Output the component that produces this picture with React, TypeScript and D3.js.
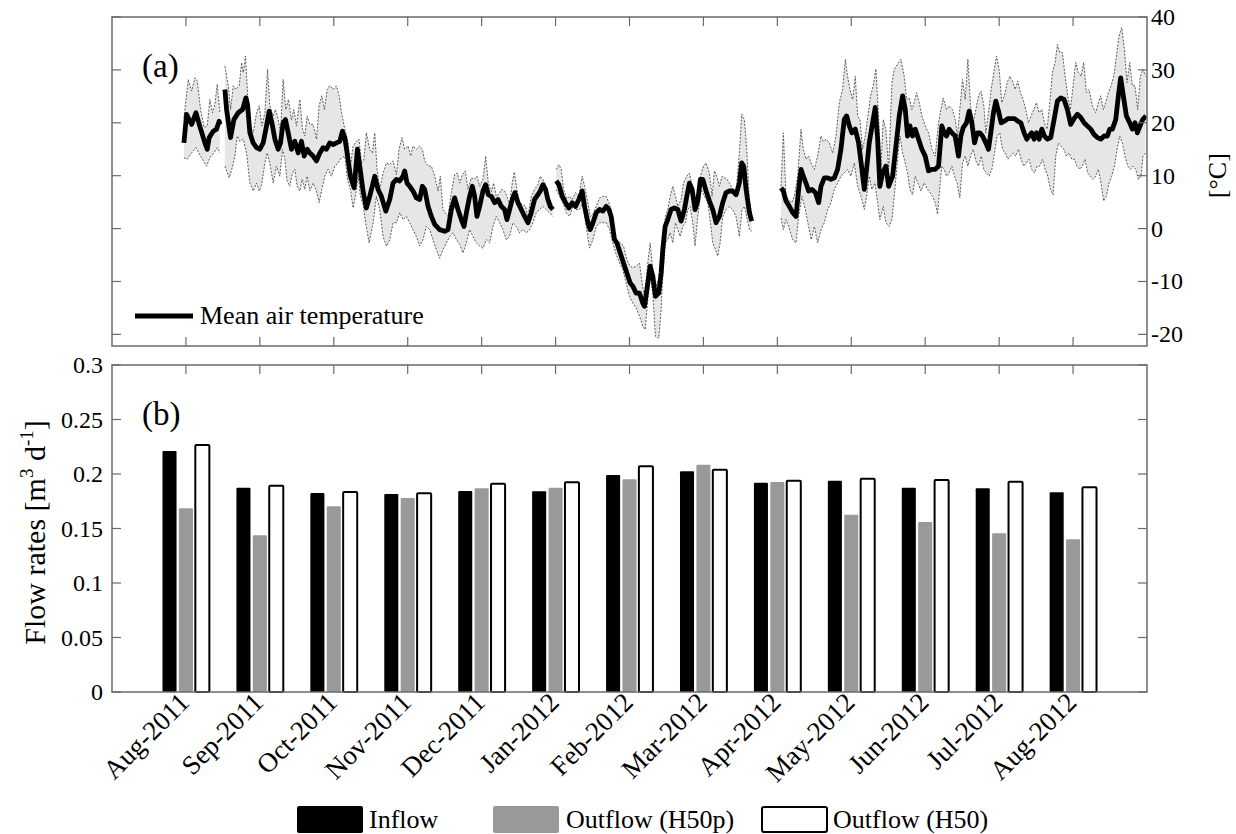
import React from 'react';
import * as d3 from 'd3';

type P = [number, number];

const months = ['Aug-2011', 'Sep-2011', 'Oct-2011', 'Nov-2011', 'Dec-2011', 'Jan-2012', 'Feb-2012', 'Mar-2012', 'Apr-2012', 'May-2012', 'Jun-2012', 'Jul-2012', 'Aug-2012'];
const inflow = [0.221, 0.1875, 0.1826, 0.1817, 0.1844, 0.1841, 0.1991, 0.2025, 0.192, 0.1939, 0.1875, 0.1869, 0.1832];
const outflowH50p = [0.1685, 0.1437, 0.1703, 0.178, 0.1869, 0.1875, 0.1951, 0.2086, 0.1927, 0.1627, 0.156, 0.1456, 0.1401];
const outflowH50 = [0.2266, 0.1893, 0.1835, 0.1823, 0.1911, 0.1924, 0.207, 0.204, 0.1939, 0.1957, 0.1945, 0.193, 0.1878];
const flowTicks = [0, 0.05, 0.1, 0.15, 0.2, 0.25, 0.3];
const flowTickLabels = ['0', '0.05', '0.1', '0.15', '0.2', '0.25', '0.3'];
const tempTicks = [-20, -10, 0, 10, 20, 30, 40];

// Daily air temperature, x in month-position units (1 = Aug-2011), value in °C
const meanA: P[] = [[0.973,16.2],[1.009,21.6],[1.036,20.8],[1.077,19.7],[1.135,21.9],[1.180,19.7],[1.257,16.2],[1.288,15.0],[1.315,17.2],[1.369,18.4],[1.414,18.8],[1.450,20.3],[1.459,19.7]];
const hiA: P[] = [[0.973,21.0],[1.032,28.2],[1.077,26.0],[1.122,28.5],[1.153,27.9],[1.198,22.5],[1.248,19.1],[1.288,19.4],[1.324,24.4],[1.360,21.9],[1.392,23.5],[1.423,27.3],[1.459,21.9]];
const loA: P[] = [[0.973,13.4],[1.018,13.1],[1.077,14.3],[1.135,15.3],[1.198,13.7],[1.279,11.8],[1.324,13.4],[1.378,14.3],[1.423,15.3],[1.459,14.3]];

const meanB: P[] = [[1.527,26.3],[1.550,22.5],[1.604,17.2],[1.649,20.6],[1.707,21.9],[1.766,22.5],[1.811,24.7],[1.833,23.5],[1.865,18.1],[1.910,16.2],[1.955,15.3],[2.000,15.0],[2.045,16.2],[2.090,19.4],[2.126,22.2],[2.167,19.7],[2.203,16.9],[2.248,15.0],[2.279,16.2],[2.315,20.0],[2.347,20.6],[2.383,18.1],[2.428,15.0],[2.473,16.5],[2.518,14.3],[2.563,16.5],[2.599,13.7],[2.640,15.0],[2.676,14.3],[2.721,13.7],[2.766,12.8],[2.811,14.3],[2.856,15.3],[2.901,15.0],[2.946,16.2],[2.991,15.9],[3.036,16.2],[3.081,16.5],[3.117,18.4],[3.149,17.2],[3.180,14.3],[3.225,9.9],[3.275,7.7],[3.320,15.0],[3.351,11.8],[3.396,7.1],[3.441,3.9],[3.486,6.1],[3.554,9.9],[3.599,7.4],[3.644,6.1],[3.703,3.3],[3.757,5.5],[3.802,8.6],[3.847,9.3],[3.892,9.0],[3.937,9.9],[3.959,10.9],[3.991,8.6],[4.027,8.0],[4.072,7.1],[4.117,5.8],[4.162,5.5],[4.198,8.0],[4.230,7.4],[4.275,4.2],[4.320,2.3],[4.365,0.8],[4.432,-0.2],[4.500,-0.5],[4.545,-0.2],[4.590,3.6],[4.635,5.8],[4.680,3.6],[4.725,1.7],[4.761,0.4],[4.802,3.6],[4.838,6.1],[4.874,8.0],[4.905,6.1],[4.937,2.3],[4.973,4.2],[5.018,7.1],[5.054,8.3],[5.090,6.4],[5.131,6.1],[5.176,4.9],[5.221,5.5],[5.266,4.2],[5.311,3.6],[5.342,1.7],[5.378,3.6],[5.414,5.5],[5.450,6.8],[5.491,4.9],[5.536,3.6],[5.581,2.3],[5.626,1.1],[5.671,3.0],[5.716,5.5],[5.761,6.4],[5.793,7.1],[5.829,8.3],[5.865,7.4],[5.896,5.5],[5.928,4.2],[5.964,3.6]];
const hiB: P[] = [[1.527,30.7],[1.572,27.0],[1.604,22.5],[1.640,27.0],[1.676,26.3],[1.721,27.0],[1.752,31.4],[1.775,29.5],[1.806,32.6],[1.833,25.7],[1.865,19.7],[1.910,18.1],[1.955,21.9],[1.991,23.2],[2.027,19.4],[2.068,21.9],[2.104,30.1],[2.135,23.2],[2.180,21.3],[2.212,22.5],[2.248,20.6],[2.279,18.1],[2.315,28.2],[2.351,22.5],[2.387,24.4],[2.428,20.6],[2.459,22.5],[2.495,19.4],[2.541,24.4],[2.577,18.8],[2.608,17.5],[2.640,21.3],[2.676,19.7],[2.721,19.7],[2.766,16.9],[2.802,23.2],[2.838,25.1],[2.874,22.5],[2.910,26.3],[2.946,27.0],[2.991,26.3],[3.036,27.0],[3.072,25.1],[3.104,22.0],[3.149,18.8],[3.194,16.2],[3.225,11.8],[3.261,15.6],[3.306,16.5],[3.342,16.9],[3.374,12.4],[3.405,12.8],[3.441,18.1],[3.486,15.0],[3.523,14.3],[3.554,18.1],[3.586,11.2],[3.622,7.4],[3.667,10.5],[3.712,12.4],[3.757,12.1],[3.802,12.8],[3.847,10.2],[3.883,15.0],[3.923,17.2],[3.959,15.0],[4.005,15.6],[4.041,13.7],[4.072,15.6],[4.117,15.0],[4.162,15.6],[4.198,15.0],[4.230,12.8],[4.275,11.8],[4.320,11.8],[4.365,9.9],[4.410,7.1],[4.441,9.9],[4.477,3.6],[4.545,2.3],[4.590,6.8],[4.635,10.2],[4.671,10.5],[4.703,8.6],[4.739,10.2],[4.779,10.9],[4.815,7.4],[4.860,9.6],[4.896,9.3],[4.937,9.9],[4.973,8.0],[5.018,9.3],[5.054,13.7],[5.090,8.6],[5.131,7.0],[5.162,8.6],[5.198,6.1],[5.234,6.5],[5.270,7.4],[5.311,7.1],[5.342,6.1],[5.378,4.5],[5.414,8.6],[5.441,10.7],[5.477,7.4],[5.514,4.9],[5.550,4.6],[5.595,4.2],[5.626,2.3],[5.671,6.1],[5.716,7.4],[5.761,8.3],[5.793,9.9],[5.829,9.3],[5.865,8.3],[5.896,6.1],[5.941,4.9],[5.964,4.5]];
const loB: P[] = [[1.527,11.8],[1.586,9.6],[1.626,11.5],[1.662,13.7],[1.694,17.5],[1.730,16.5],[1.775,16.9],[1.820,14.3],[1.865,8.6],[1.910,7.1],[1.955,8.6],[1.991,7.1],[2.023,8.3],[2.068,12.4],[2.099,14.3],[2.135,12.4],[2.180,8.6],[2.225,11.8],[2.270,9.9],[2.306,15.0],[2.338,13.1],[2.369,9.0],[2.405,8.0],[2.441,10.5],[2.473,11.2],[2.505,8.0],[2.541,7.1],[2.572,9.3],[2.608,7.4],[2.640,9.9],[2.676,7.1],[2.721,8.6],[2.766,7.1],[2.802,4.9],[2.838,7.4],[2.878,9.9],[2.923,11.2],[2.968,9.9],[3.014,11.8],[3.059,12.4],[3.104,13.4],[3.149,13.7],[3.185,9.3],[3.225,7.4],[3.261,3.9],[3.297,6.5],[3.329,10.0],[3.360,6.1],[3.396,4.5],[3.432,1.1],[3.477,-2.7],[3.532,1.1],[3.577,6.1],[3.622,3.6],[3.667,-1.5],[3.712,-3.3],[3.757,-2.1],[3.802,1.1],[3.847,1.1],[3.892,3.0],[3.937,1.7],[3.982,2.3],[4.027,1.1],[4.072,-0.2],[4.117,-1.5],[4.162,-3.3],[4.207,-2.1],[4.252,0.4],[4.297,-0.2],[4.342,-2.1],[4.387,-4.0],[4.432,-5.6],[4.477,-4.0],[4.523,-2.7],[4.568,-1.5],[4.613,-0.8],[4.658,-2.1],[4.703,-3.0],[4.748,-4.6],[4.793,-2.7],[4.838,-0.2],[4.883,-1.5],[4.928,-2.7],[4.973,-3.3],[5.018,-3.7],[5.063,-2.1],[5.108,-2.7],[5.153,0.4],[5.198,2.3],[5.243,1.1],[5.288,-0.2],[5.333,-2.1],[5.378,-1.5],[5.423,1.1],[5.468,0.4],[5.514,-0.8],[5.559,-0.2],[5.604,-0.8],[5.649,-0.2],[5.694,1.1],[5.739,3.0],[5.784,3.6],[5.829,4.2],[5.874,3.6],[5.919,3.0],[5.964,2.3]];

const meanC: P[] = [[6.009,9.0],[6.045,8.3],[6.090,6.1],[6.135,4.9],[6.180,3.9],[6.225,4.9],[6.270,4.2],[6.315,5.5],[6.360,7.1],[6.392,4.2],[6.437,1.1],[6.468,-0.2],[6.505,1.1],[6.550,3.0],[6.595,3.6],[6.640,3.3],[6.685,4.2],[6.721,3.6],[6.752,2.3],[6.797,-2.1],[6.829,-2.7],[6.874,-4.6],[6.919,-6.5],[6.964,-8.4],[7.009,-10.3],[7.045,-10.9],[7.090,-12.2],[7.135,-12.2],[7.180,-14.1],[7.203,-14.7],[7.248,-10.3],[7.279,-7.1],[7.315,-9.0],[7.351,-12.8],[7.396,-12.2],[7.428,-8.4],[7.450,-4.0],[7.482,0.4],[7.518,1.7],[7.563,3.6],[7.608,3.9],[7.653,3.6],[7.698,1.4],[7.743,3.6],[7.775,6.1],[7.811,8.6],[7.847,7.4],[7.887,3.6],[7.923,5.2],[7.959,9.3],[7.991,9.3],[8.036,7.1],[8.081,5.2],[8.126,3.6],[8.171,1.1],[8.216,2.3],[8.261,4.9],[8.306,6.8],[8.351,7.1],[8.396,7.1],[8.441,6.4],[8.486,8.6],[8.518,12.4],[8.545,11.8],[8.577,7.4],[8.622,3.0],[8.653,1.4]];
const hiC: P[] = [[6.009,11.2],[6.045,12.1],[6.077,11.2],[6.108,7.4],[6.153,5.6],[6.189,6.1],[6.225,5.5],[6.270,6.8],[6.315,6.1],[6.360,9.9],[6.392,8.0],[6.437,4.9],[6.468,2.3],[6.505,2.7],[6.550,4.2],[6.595,5.8],[6.640,6.1],[6.685,6.1],[6.721,4.9],[6.752,3.6],[6.797,-1.5],[6.829,-2.1],[6.874,-2.7],[6.919,-3.3],[6.964,-5.9],[7.009,-7.1],[7.045,-7.4],[7.090,-7.1],[7.135,-6.5],[7.171,-10.3],[7.203,-12.8],[7.248,-6.5],[7.279,-2.7],[7.315,-7.8],[7.351,-11.0],[7.396,-9.5],[7.428,-5.2],[7.450,-2.7],[7.486,2.3],[7.518,3.6],[7.550,6.1],[7.586,8.0],[7.622,6.1],[7.653,4.2],[7.698,5.5],[7.730,8.6],[7.775,9.9],[7.811,10.5],[7.847,8.0],[7.887,4.2],[7.923,6.8],[7.959,9.9],[8.000,11.8],[8.036,12.4],[8.081,10.5],[8.117,6.1],[8.149,10.9],[8.180,9.9],[8.216,8.0],[8.252,9.9],[8.284,9.6],[8.320,9.3],[8.351,8.6],[8.396,7.4],[8.441,6.8],[8.486,14.3],[8.518,21.6],[8.554,20.6],[8.586,15.0],[8.622,4.9],[8.653,3.0]];
const loC: P[] = [[6.009,7.4],[6.054,6.1],[6.099,4.9],[6.144,3.0],[6.189,2.3],[6.234,4.2],[6.279,3.6],[6.324,3.6],[6.369,4.9],[6.414,0.4],[6.459,-3.7],[6.505,-2.1],[6.550,0.4],[6.595,1.1],[6.640,1.1],[6.685,1.1],[6.730,-0.2],[6.775,-2.7],[6.820,-4.9],[6.865,-6.5],[6.910,-7.8],[6.955,-10.3],[7.000,-12.8],[7.045,-14.1],[7.090,-15.0],[7.135,-16.5],[7.180,-18.5],[7.212,-19.1],[7.248,-13.4],[7.279,-9.0],[7.315,-12.2],[7.351,-20.4],[7.396,-20.7],[7.428,-15.3],[7.450,-9.0],[7.486,-2.7],[7.518,-2.1],[7.550,-0.8],[7.586,-2.7],[7.622,1.1],[7.653,-0.2],[7.685,-1.5],[7.721,0.4],[7.757,1.1],[7.788,3.6],[7.820,4.2],[7.856,1.1],[7.887,-3.3],[7.923,2.3],[7.968,7.4],[8.014,6.1],[8.059,4.9],[8.095,1.1],[8.126,-2.7],[8.162,-4.0],[8.194,-5.2],[8.225,-2.7],[8.261,2.3],[8.306,3.6],[8.351,4.2],[8.396,3.6],[8.441,2.3],[8.486,-1.5],[8.523,3.6],[8.554,4.2],[8.622,-0.2],[8.653,-0.5]];

const meanD: P[] = [[9.050,7.7],[9.081,7.1],[9.117,5.2],[9.162,4.2],[9.207,3.0],[9.252,2.3],[9.288,7.4],[9.320,11.2],[9.351,9.9],[9.387,8.6],[9.423,7.1],[9.468,7.4],[9.514,6.8],[9.559,4.9],[9.590,8.0],[9.635,9.6],[9.680,9.6],[9.725,9.3],[9.770,9.6],[9.815,11.2],[9.860,15.0],[9.905,20.6],[9.937,21.3],[9.973,19.4],[10.009,18.1],[10.054,18.8],[10.099,16.2],[10.144,11.2],[10.176,7.4],[10.207,11.2],[10.243,16.2],[10.288,20.0],[10.324,22.9],[10.356,16.9],[10.387,8.0],[10.423,10.5],[10.468,11.8],[10.505,8.0],[10.559,9.9],[10.604,15.6],[10.649,21.3],[10.694,25.1],[10.730,22.5],[10.761,17.5],[10.793,19.4],[10.829,17.5],[10.865,18.8],[10.910,16.9],[10.955,15.0],[11.000,13.7],[11.045,10.9],[11.090,11.2],[11.135,11.2],[11.180,11.8],[11.225,19.4],[11.257,18.1],[11.288,17.5],[11.324,18.8],[11.360,18.1],[11.405,17.5],[11.450,13.7],[11.482,17.5],[11.514,19.1],[11.559,20.0],[11.595,22.2],[11.631,20.0],[11.667,16.2],[11.703,18.1],[11.739,18.1],[11.775,17.5],[11.820,16.2],[11.856,15.0],[11.887,18.1],[11.923,21.9],[11.955,24.1],[11.991,22.2],[12.027,20.0],[12.072,20.3],[12.117,20.8],[12.162,20.8],[12.207,20.8],[12.252,20.3],[12.293,20.0],[12.338,18.1],[12.374,16.9],[12.405,17.5],[12.441,18.1],[12.473,16.9],[12.505,18.1],[12.541,16.9],[12.577,18.8],[12.613,17.5],[12.653,16.9],[12.698,17.2],[12.743,20.6],[12.788,24.1],[12.833,24.7],[12.878,24.4],[12.923,22.5],[12.968,19.7],[13.014,20.8],[13.059,21.6],[13.104,21.0],[13.149,20.0],[13.194,19.4],[13.239,18.8],[13.284,17.8],[13.329,17.2],[13.374,16.9],[13.419,17.5],[13.464,17.5],[13.495,18.8],[13.532,18.8],[13.577,20.6],[13.613,25.1],[13.644,28.5],[13.680,25.1],[13.721,21.3],[13.766,20.0],[13.802,18.8],[13.838,20.0],[13.869,18.1],[13.905,19.4],[13.941,20.6],[13.986,21.3]];
const hiD: P[] = [[9.050,8.0],[9.081,18.1],[9.117,6.1],[9.153,5.5],[9.194,4.9],[9.230,6.1],[9.275,9.9],[9.320,18.8],[9.351,15.0],[9.387,13.1],[9.423,13.7],[9.455,12.4],[9.500,11.2],[9.545,13.7],[9.590,17.5],[9.622,16.5],[9.658,16.9],[9.703,16.2],[9.748,14.3],[9.793,17.5],[9.838,23.8],[9.883,26.3],[9.919,32.0],[9.950,28.8],[9.982,26.3],[10.018,24.4],[10.054,28.8],[10.086,21.3],[10.117,20.6],[10.153,15.0],[10.189,17.5],[10.225,21.3],[10.261,25.1],[10.297,27.0],[10.333,30.2],[10.369,21.3],[10.401,11.8],[10.432,20.6],[10.468,18.8],[10.505,11.2],[10.550,27.6],[10.581,30.1],[10.626,31.1],[10.671,32.0],[10.716,28.8],[10.748,24.4],[10.784,24.7],[10.820,22.5],[10.851,23.8],[10.883,25.7],[10.919,23.8],[10.955,21.3],[11.000,19.4],[11.045,18.1],[11.090,15.0],[11.135,13.7],[11.180,20.0],[11.212,22.5],[11.243,24.7],[11.288,22.5],[11.324,23.2],[11.369,22.5],[11.405,20.6],[11.437,17.5],[11.468,22.5],[11.505,28.2],[11.541,24.4],[11.577,32.0],[11.613,23.2],[11.649,20.0],[11.685,22.5],[11.721,25.1],[11.757,26.0],[11.793,23.2],[11.820,18.1],[11.856,21.9],[11.892,26.3],[11.928,29.5],[11.964,32.6],[12.000,30.1],[12.036,23.8],[12.072,25.1],[12.108,27.6],[12.144,28.8],[12.180,27.9],[12.216,26.3],[12.252,27.9],[12.288,25.7],[12.324,24.4],[12.360,22.5],[12.396,20.0],[12.432,21.3],[12.468,22.5],[12.505,23.8],[12.541,21.9],[12.577,22.5],[12.613,20.0],[12.649,18.8],[12.685,23.8],[12.721,29.5],[12.757,31.4],[12.788,34.8],[12.820,33.3],[12.856,33.3],[12.892,28.8],[12.928,25.1],[12.964,22.5],[13.000,27.0],[13.036,31.4],[13.072,29.5],[13.108,28.8],[13.144,31.4],[13.180,25.7],[13.216,26.3],[13.261,23.2],[13.306,21.9],[13.342,23.8],[13.374,25.1],[13.410,22.5],[13.441,23.8],[13.477,25.7],[13.514,27.0],[13.550,28.8],[13.586,32.6],[13.622,36.4],[13.658,38.0],[13.694,33.9],[13.730,27.6],[13.766,31.4],[13.802,27.0],[13.838,27.0],[13.874,22.5],[13.910,28.8],[13.946,30.1],[13.982,28.8]];
const loD: P[] = [[9.050,2.0],[9.081,-0.2],[9.117,1.7],[9.153,0.4],[9.207,-2.1],[9.252,-2.7],[9.288,2.3],[9.333,6.1],[9.378,3.6],[9.423,0.4],[9.459,-2.1],[9.500,0.4],[9.545,-2.7],[9.590,-0.2],[9.635,1.1],[9.680,3.6],[9.725,4.9],[9.770,7.4],[9.815,8.6],[9.860,9.9],[9.905,10.5],[9.950,11.2],[9.995,9.9],[10.041,12.4],[10.086,8.0],[10.131,6.1],[10.176,3.6],[10.207,6.1],[10.243,9.9],[10.279,7.4],[10.320,8.6],[10.356,4.9],[10.387,1.7],[10.432,4.2],[10.468,1.1],[10.514,0.4],[10.550,1.7],[10.581,6.1],[10.626,13.1],[10.658,17.5],[10.694,14.3],[10.730,12.4],[10.761,10.5],[10.793,7.4],[10.829,6.4],[10.865,9.9],[10.901,8.6],[10.941,7.1],[10.986,8.6],[11.032,7.4],[11.063,6.8],[11.099,6.1],[11.135,4.9],[11.167,2.7],[11.198,8.0],[11.225,11.8],[11.257,11.2],[11.288,9.9],[11.324,10.5],[11.360,11.8],[11.396,9.9],[11.432,8.6],[11.468,5.8],[11.505,12.4],[11.541,13.7],[11.577,11.8],[11.613,13.7],[11.649,15.0],[11.685,12.8],[11.721,11.8],[11.757,13.7],[11.793,11.2],[11.829,10.5],[11.865,9.9],[11.901,11.2],[11.937,14.3],[11.973,17.5],[12.009,18.1],[12.045,15.0],[12.081,14.3],[12.117,13.1],[12.153,13.7],[12.189,14.3],[12.225,13.7],[12.261,15.0],[12.297,13.1],[12.333,11.8],[12.369,12.4],[12.405,13.1],[12.441,11.2],[12.477,10.5],[12.514,11.8],[12.550,11.8],[12.586,13.1],[12.622,11.2],[12.658,9.9],[12.694,7.4],[12.730,6.4],[12.766,13.7],[12.802,16.2],[12.838,15.6],[12.874,15.0],[12.910,13.7],[12.946,14.3],[12.982,13.1],[13.018,13.1],[13.054,11.8],[13.090,11.2],[13.126,11.8],[13.162,13.1],[13.198,10.5],[13.234,9.9],[13.270,9.3],[13.306,9.9],[13.342,11.2],[13.378,8.6],[13.414,5.2],[13.450,6.1],[13.486,8.6],[13.523,9.9],[13.559,11.8],[13.595,15.0],[13.631,17.5],[13.667,16.2],[13.703,13.7],[13.739,11.8],[13.775,11.2],[13.811,11.8],[13.847,11.2],[13.883,9.3],[13.919,9.9],[13.946,13.7],[13.982,14.3]];

const segments = [
  { mean: meanA, hi: hiA, lo: loA },
  { mean: meanB, hi: hiB, lo: loB },
  { mean: meanC, hi: hiC, lo: loC },
  { mean: meanD, hi: hiD, lo: loD },
];

const FONT = "'Liberation Serif', 'Times New Roman', serif";

export default function App() {
  const W = 1236, H = 834;
  const L = 112, R = 1147;
  const aTop = 17, aBot = 346;
  const bTop = 365, bBot = 692;
  const frame = '#6a6a6a';
  const tickLen = 9;

  const x = d3.scaleLinear().domain([0, 14]).range([L, R]);
  const yT = d3.scaleLinear().domain([-22.2, 40]).range([aBot, aTop]);
  const yF = d3.scaleLinear().domain([0, 0.3]).range([bBot, bTop]);
  const line = d3.line<P>().x(d => x(d[0])).y(d => yT(d[1]));
  const band = (hi: P[], lo: P[]) => {
    const p1 = line(hi) || '';
    const p2 = line([...lo].reverse()) || '';
    return p1 + p2.replace(/^M/, 'L') + 'Z';
  };
  const monthTicks = months.map((_, i) => i + 1);

  const barW = x(0.19) - x(0);
  const off = x(0.222) - x(0);
  const series = [
    { vals: inflow, dx: -off, fill: '#000', stroke: 'none' },
    { vals: outflowH50p, dx: 0, fill: '#999999', stroke: 'none' },
    { vals: outflowH50, dx: off, fill: '#fff', stroke: '#000' },
  ];

  return (
    <div style={{ position: 'absolute', left: 0, top: 0, background: '#fff' }}>
      <svg width={W} height={H} style={{ display: 'block', fontFamily: FONT }}>
        <defs>
          <clipPath id="clipA"><rect x={L} y={aTop} width={R - L} height={aBot - aTop} /></clipPath>
        </defs>
        <rect x={0} y={0} width={W} height={H} fill="#fff" />

        {/* Panel (a) */}
        <g clipPath="url(#clipA)">
          {segments.map((s, i) => (
            <g key={i}>
              <path d={band(s.hi, s.lo)} fill="#e6e6e6" stroke="none" />
              <path d={line(s.hi) || ''} fill="none" stroke="#4a4a4a" strokeWidth={0.9} strokeDasharray="2,1.5" />
              <path d={line(s.lo) || ''} fill="none" stroke="#4a4a4a" strokeWidth={0.9} strokeDasharray="2,1.5" />
              <path d={line(s.mean) || ''} fill="none" stroke="#000" strokeWidth={4.8} strokeLinejoin="round" />
            </g>
          ))}
        </g>
        <rect x={L} y={aTop} width={R - L} height={aBot - aTop} fill="none" stroke={frame} strokeWidth={1.5} />
        {monthTicks.map(t => (
          <g key={'at' + t} stroke={frame} strokeWidth={1.2}>
            <line x1={x(t)} x2={x(t)} y1={aTop} y2={aTop + tickLen} />
            <line x1={x(t)} x2={x(t)} y1={aBot} y2={aBot - tickLen} />
          </g>
        ))}
        {tempTicks.map(v => (
          <g key={'ay' + v}>
            <line x1={L} x2={L + tickLen} y1={yT(v)} y2={yT(v)} stroke={frame} strokeWidth={1.2} />
            <line x1={R} x2={R - tickLen} y1={yT(v)} y2={yT(v)} stroke={frame} strokeWidth={1.2} />
            <text x={R + 4} y={yT(v)} dominantBaseline="central" fontSize={24} fill="#000">{v}</text>
          </g>
        ))}
        <text transform={`translate(1217, ${yT(10)}) rotate(-90)`} textAnchor="middle" dominantBaseline="central" fontSize={26} fill="#000">[°C]</text>
        <text x={142} y={77} fontSize={33} fill="#000">(a)</text>
        <line x1={135} x2={193} y1={316} y2={316} stroke="#000" strokeWidth={4.8} />
        <text x={200} y={324} fontSize={26} fill="#000">Mean air temperature</text>

        {/* Panel (b) */}
        {months.map((m, i) => (
          <g key={'bar' + i}>
            {series.map((s, j) => (
              <rect key={j}
                x={x(i + 1) + s.dx - barW / 2}
                y={yF(s.vals[i])}
                width={barW}
                height={yF(0) - yF(s.vals[i])}
                fill={s.fill}
                stroke={s.stroke}
                strokeWidth={s.stroke === 'none' ? 0 : 2}
                rx={1}
              />
            ))}
          </g>
        ))}
        <rect x={L} y={bTop} width={R - L} height={bBot - bTop} fill="none" stroke={frame} strokeWidth={1.5} />
        {monthTicks.map(t => (
          <g key={'bt' + t} stroke={frame} strokeWidth={1.2}>
            <line x1={x(t)} x2={x(t)} y1={bTop} y2={bTop + tickLen} />
          </g>
        ))}
        {flowTicks.map((v, i) => (
          <g key={'by' + v}>
            <line x1={L} x2={L + tickLen} y1={yF(v)} y2={yF(v)} stroke={frame} strokeWidth={1.2} />
            <line x1={R} x2={R - tickLen} y1={yF(v)} y2={yF(v)} stroke={frame} strokeWidth={1.2} />
            <text x={103} y={yF(v)} textAnchor="end" dominantBaseline="central" fontSize={24} fill="#000">{flowTickLabels[i]}</text>
          </g>
        ))}
        {months.map((m, i) => (
          <text key={'xl' + i} transform={`translate(${x(i + 1) + 5}, ${bBot + 12}) rotate(-45)`} textAnchor="end" fontSize={27} fill="#000">{m}</text>
        ))}
        <text transform={`translate(45, ${(bTop + bBot) / 2 + 4}) rotate(-90)`} textAnchor="middle" fontSize={30} fill="#000">
          <tspan>Flow rates [m</tspan>
          <tspan fontSize={19} dy={-12}>3</tspan>
          <tspan dy={12}> d</tspan>
          <tspan fontSize={19} dy={-12}>-1</tspan>
          <tspan dy={12}>]</tspan>
        </text>
        <text x={142} y={425} fontSize={33} fill="#000">(b)</text>

        {/* Legend */}
        <rect x={297} y={806} width={66} height={27} fill="#000" rx={2} />
        <text x={369} y={828} fontSize={26} fill="#000">Inflow</text>
        <rect x={493} y={806} width={66} height={27} fill="#999999" rx={2} />
        <text x={566} y={828} fontSize={26} fill="#000">Outflow (H50p)</text>
        <rect x={762} y={807} width={65} height={25} fill="#fff" stroke="#000" strokeWidth={2} rx={2} />
        <text x={833} y={828} fontSize={26} fill="#000">Outflow (H50)</text>
      </svg>
    </div>
  );
}
